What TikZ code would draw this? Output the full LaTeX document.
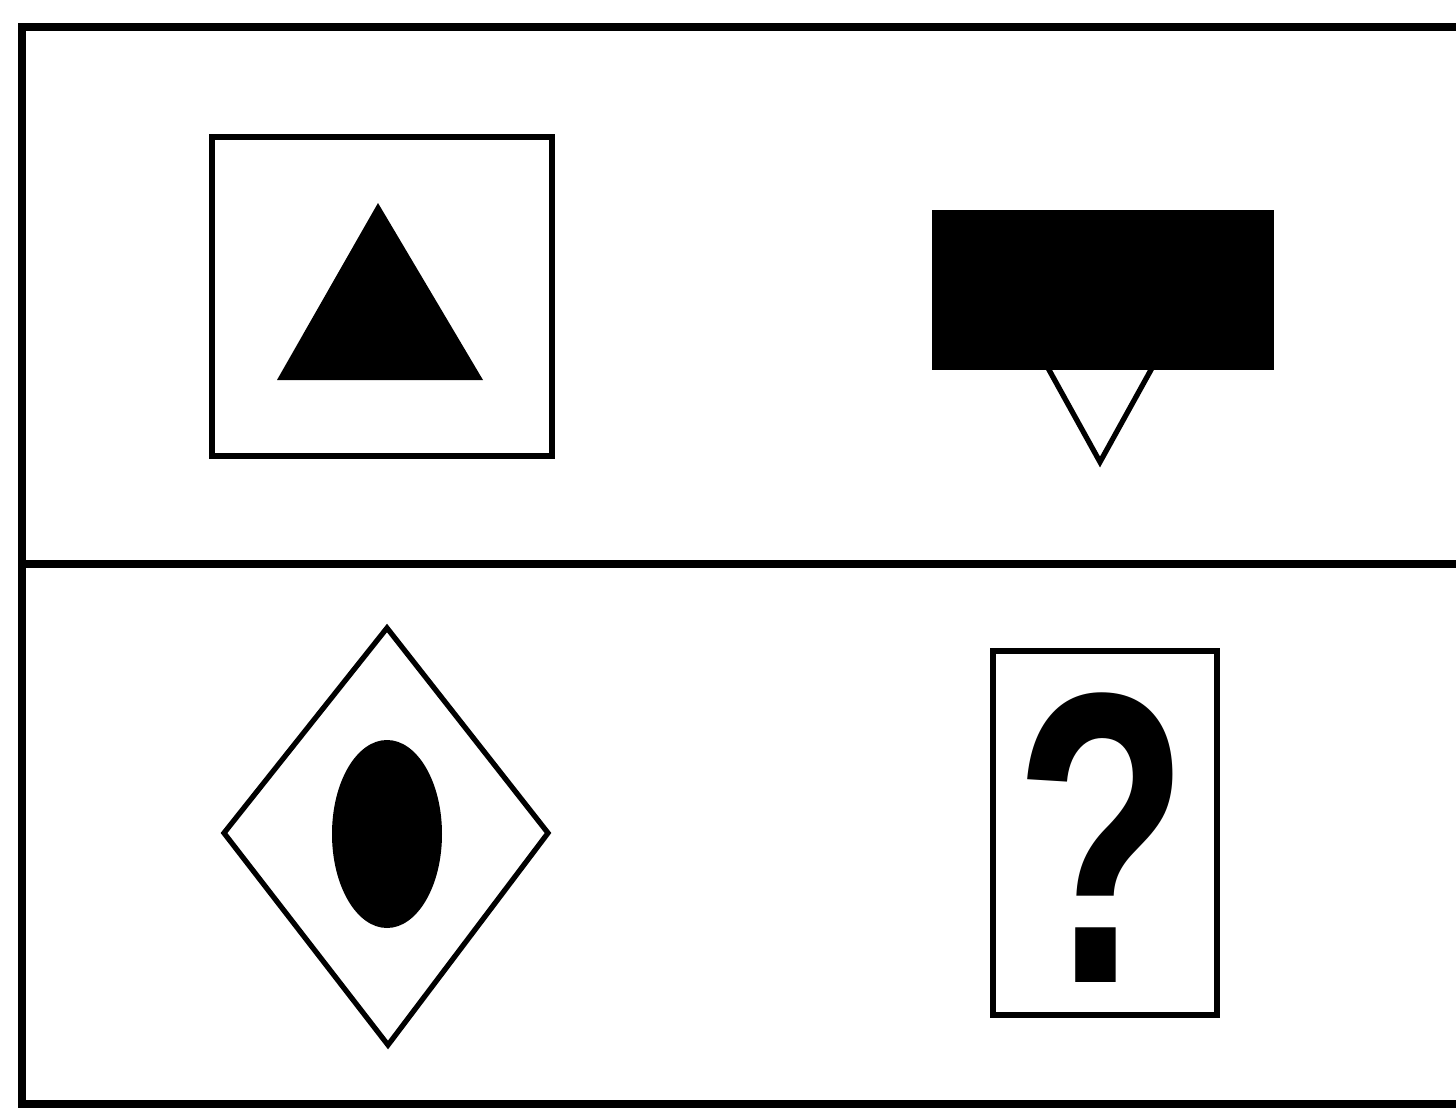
\documentclass[tikz,border=0pt]{standalone}
\usepackage{fontspec}
\setmainfont{Liberation Sans}
\usetikzlibrary{positioning, shapes.geometric}
\tikzset{
    frameline/.style={draw=black, line width=2pt},
    outline/.style={draw=black, line width=1.5pt, line join=miter},
    blot/.style={fill=black, draw=none}
}

\begin{document}
\begin{tikzpicture}[x=0.01cm, y=-0.01cm]
  \useasboundingbox (0,0) rectangle (1456,1112);
  % frame (open on the right) and divider
  \draw[frameline] (1480,27) -- (22,27) -- (22,1104) -- (1480,1104);
  \draw[frameline] (22,564) -- (1480,564);

  % top left
  \draw[outline] (212,137) rectangle (552,456);
  \fill[blot] (378,203) -- (483,380) -- (277,380) -- cycle;

  % top right
  \fill[blot] (932,210) rectangle (1274,370);
  \draw[outline] (1048,368) -- (1100,462) -- (1152,368);

  % bottom left
  \draw[outline] (387,628) -- (548,833) -- (388,1045) -- (224,833) -- cycle;
  \fill[blot] (387,834) ellipse [x radius=55, y radius=94];

  % bottom right
  \draw[outline] (993,651) rectangle (1217,1015);
  \node[inner sep=0pt, xscale=0.69, font=\bfseries\fontsize{118}{118}\selectfont] (qmark) at (1102,838) {?};
\end{tikzpicture}
\end{document}
